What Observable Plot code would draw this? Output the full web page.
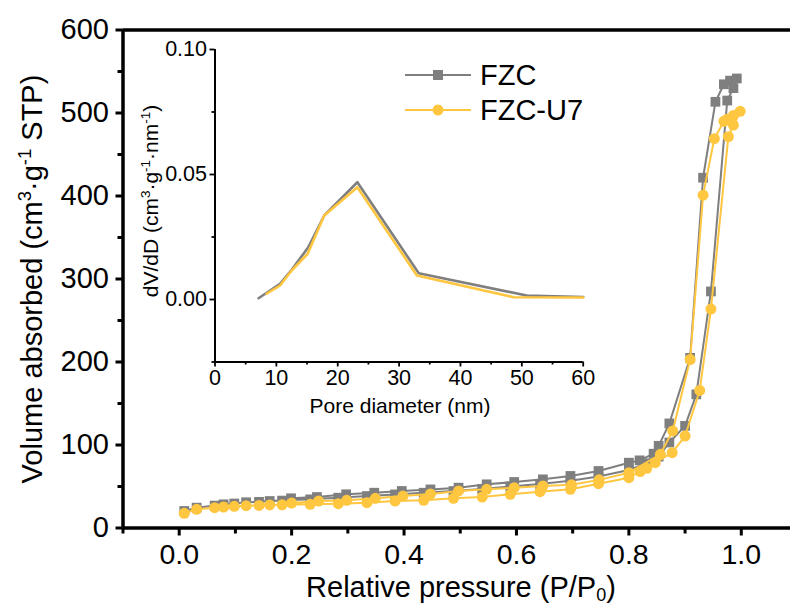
<!DOCTYPE html>
<html><head><meta charset="utf-8">
<script src="https://cdn.jsdelivr.net/npm/d3@7"></script>
<script src="https://cdn.jsdelivr.net/npm/@observablehq/plot@0.6"></script>
<style>
body{margin:0;background:#fff;}
#wrap{position:relative;width:790px;height:608px;overflow:hidden;font-family:"Liberation Sans",Arial,Helvetica,sans-serif;}
#wrap svg{position:absolute;left:0;top:0;}
</style></head><body><div id="wrap"></div>
<script>
const FONT = '"Liberation Sans", Arial, Helvetica, sans-serif';
const GRAY = "#7f7f7f", YEL = "#ffc640";

// ---- Main isotherm data (adsorption branch then desorption branch) ----
const fzcPressure = [0.009,0.031,0.063,0.079,0.098,0.119,0.142,0.161,0.183,0.233,0.283,0.334,0.384,0.435,0.488,0.539,0.589,0.642,0.696,0.746,0.800,0.832,0.853,0.872,0.900,0.920,0.946,0.975,0.986,
  0.992,0.980,0.969,0.954,0.932,0.909,0.872,0.853,0.844,0.819,0.800,0.746,0.696,0.647,0.596,0.547,0.497,0.447,0.396,0.347,0.297,0.245,0.199];
const fzcVolume = [20.5,24.5,27.0,28.5,29.5,31.0,31.5,32.5,33.0,34.5,36.5,38.5,40.5,42.5,44.5,47.0,50.0,53.0,57.0,62.0,70.0,78.0,86.0,103,123,161,285,515,530,
  541.6,539,534.6,513.5,422,205,126,99,89.5,81.5,78.7,68.7,62.7,58.6,55.4,52.6,48.6,46.5,44.6,42.5,40.6,37.3,35.8];
const u7Pressure = [0.009,0.031,0.063,0.079,0.098,0.119,0.142,0.161,0.183,0.233,0.283,0.334,0.384,0.435,0.488,0.539,0.589,0.642,0.696,0.746,0.800,0.820,0.832,0.847,0.877,0.900,0.926,0.946,0.977,0.986,
  0.998,0.986,0.975,0.969,0.952,0.932,0.909,0.878,0.856,0.800,0.747,0.698,0.647,0.596,0.547,0.497,0.447,0.398,0.349,0.298,0.248,0.200];
const u7Volume = [17.7,22.5,24.5,25.3,26.1,26.9,27.2,27.8,28.0,28.5,29.3,30.5,32.5,33.3,35.8,37.3,40.6,43.7,46.6,53.4,60.6,68.0,71.9,78.7,90.7,110.8,165.7,263.8,471.5,485.5,
  502,497,492.5,490,469,401,203,117,88.8,66.6,58.0,52.0,50.6,48.6,46.6,44.6,41.0,38.5,35.8,33.3,32.5,30.1];

// ---- Inset pore size distribution ----
const fzcDiameter = [7.1,10.6,12.5,15.2,17.8,23.2,33.2,50.8,60];
const fzcDvdD = [0.0005,0.0063,0.0119,0.0209,0.0336,0.0469,0.0105,0.0016,0.0010];
const u7Diameter = [8.4,10.6,12.5,15.1,17.8,23.2,32.9,48.7,60];
const u7DvdD = [0.0023,0.0056,0.0116,0.0183,0.0336,0.0449,0.0096,0.0009,0.0008];

// ---- Ticks ----
const mainXTicks = [0,0.2,0.4,0.6,0.8,1.0];
const mainXMinor = [-0.1,0.1,0.3,0.5,0.7,0.9];
const mainYTicks = [0,100,200,300,400,500,600];
const mainYMinor = [50,150,250,350,450,550];
const insetXTicks = [0,10,20,30,40,50,60];
const insetXMinor = [5,15,25,35,45,55];
const insetYTicks = [0,0.05,0.10];
const insetYMinor = [-0.025,0.025,0.075];
const seriesNames = ["FZC","FZC-U7"];

const fzc = fzcPressure.map((p,i)=>({p, v: fzcVolume[i]}));
const u7 = u7Pressure.map((p,i)=>({p, v: u7Volume[i]}));
const fzcPSD = fzcDiameter.map((d,i)=>({d, v: fzcDvdD[i]}));
const u7PSD = u7Diameter.map((d,i)=>({d, v: u7DvdD[i]}));

const wrap = document.getElementById("wrap");

const main = Plot.plot({
  width: 790, height: 608,
  marginLeft: 122.5, marginRight: -7, marginTop: 29.5, marginBottom: 80.5,
  x: {domain: [-0.1, 1.1]},
  y: {domain: [0, 600]},
  style: {fontFamily: FONT, background: "transparent", color: "black"},
  marks: [
    Plot.axisY({ticks: mainYTicks, tickSize: 7, tickPadding: 7, strokeWidth: 3, fontSize: 29, tickFormat: d3.format("d"), label: null}),
    Plot.axisY({ticks: mainYMinor, tickSize: 5, strokeWidth: 3, tickFormat: () => "", label: null}),
    Plot.axisX({ticks: mainXTicks, tickSize: 8, tickPadding: 8, strokeWidth: 3, fontSize: 28.5, tickFormat: d3.format(".1f"), label: null}),
    Plot.axisX({ticks: mainXMinor, tickSize: 6, strokeWidth: 3, tickFormat: () => "", label: null}),
    Plot.ruleX([-0.1], {strokeWidth: 3.5}),
    Plot.ruleY([0], {strokeWidth: 3.5}),
    Plot.ruleY([600], {strokeWidth: 3.5}),
    Plot.line(fzc, {x: "p", y: "v", stroke: GRAY, strokeWidth: 2, curve: "linear"}),
    Plot.dot(fzc, {x: "p", y: "v", symbol: "square", fill: GRAY, r: 5.5}),
    Plot.line(u7, {x: "p", y: "v", stroke: YEL, strokeWidth: 2, curve: "linear"}),
    Plot.dot(u7, {x: "p", y: "v", symbol: "circle", fill: YEL, r: 5.5})
  ]
});
wrap.appendChild(main);

const inset = Plot.plot({
  width: 790, height: 608,
  marginLeft: 214.5, marginRight: 207.3, marginTop: 49, marginBottom: 246.5,
  x: {domain: [0, 60]},
  y: {domain: [-0.025, 0.1]},
  style: {fontFamily: FONT, background: "transparent", color: "black"},
  marks: [
    Plot.axisY({ticks: insetYTicks, tickSize: 5, tickPadding: 3, strokeWidth: 1.8, fontSize: 21.5, tickFormat: d3.format(".2f"), label: null}),
    Plot.axisY({ticks: insetYMinor, tickSize: 3, strokeWidth: 1.8, tickFormat: () => "", label: null}),
    Plot.axisX({ticks: insetXTicks, tickSize: 5, tickPadding: 3, strokeWidth: 1.8, fontSize: 21.5, tickFormat: d3.format("d"), label: null}),
    Plot.axisX({ticks: insetXMinor, tickSize: 3, strokeWidth: 1.8, tickFormat: () => "", label: null}),
    Plot.ruleX([0], {strokeWidth: 2}),
    Plot.ruleY([-0.025], {strokeWidth: 2}),
    Plot.line(fzcPSD, {x: "d", y: "v", stroke: GRAY, strokeWidth: 2.6}),
    Plot.line(u7PSD, {x: "d", y: "v", stroke: YEL, strokeWidth: 2.6})
  ]
});
wrap.appendChild(inset);

// ---- Titles with super/subscripts ----
const svg = d3.select(main);
function sup(t, s, size, shift){ t.append("tspan").attr("baseline-shift", shift).attr("font-size", size).text(s); }
{
  const t = svg.append("text").attr("transform","translate(42,279) rotate(-90)")
    .attr("text-anchor","middle").attr("font-size",29).attr("font-family",FONT).attr("fill","black");
  t.append("tspan").text("Volume absorbed (cm");
  sup(t,"3",18.5,"11px");
  t.append("tspan").text("·g");
  sup(t,"-1",18.5,"11px");
  t.append("tspan").text(" STP)");
}
{
  const t = svg.append("text").attr("x",461).attr("y",597)
    .attr("text-anchor","middle").attr("font-size",29).attr("font-family",FONT).attr("fill","black");
  t.append("tspan").text("Relative pressure (P/P");
  t.append("tspan").attr("baseline-shift","-4px").attr("font-size",18).text("0");
  t.append("tspan").text(")");
}
const isvg = d3.select(inset);
{
  const t = isvg.append("text").attr("transform","translate(158,201) rotate(-90)")
    .attr("text-anchor","middle").attr("font-size",21).attr("font-family",FONT).attr("fill","black");
  t.append("tspan").text("dV/dD (cm");
  sup(t,"3",13.5,"8px");
  t.append("tspan").text("·g");
  sup(t,"-1",13.5,"8px");
  t.append("tspan").text("·nm");
  sup(t,"-1",13.5,"8px");
  t.append("tspan").text(")");
}
isvg.append("text").attr("x",400).attr("y",413).attr("text-anchor","middle")
  .attr("font-size",21).attr("font-family",FONT).attr("fill","black").text("Pore diameter (nm)");

// ---- Legend ----
const legendColors = [GRAY, YEL];
const legendSymbols = [d3.symbolSquare, d3.symbolCircle];
const lg = isvg.append("g");
seriesNames.forEach((name, i) => {
  const y = 75 + i * 35;
  const g = lg.append("g").attr("transform", `translate(0,${y})`);
  g.append("line").attr("x1",405).attr("x2",471).attr("y1",0).attr("y2",0).attr("stroke",legendColors[i]).attr("stroke-width",2);
  g.append("path").attr("d", d3.symbol(legendSymbols[i], i === 0 ? 100 : 95)()).attr("transform","translate(438,0)").attr("fill",legendColors[i]);
  g.append("text").attr("x",480).attr("y",0).attr("dy","0.36em").attr("text-anchor","start")
    .attr("font-size",29).attr("font-family",FONT).attr("fill","black").text(name);
});
</script>
</body></html>
